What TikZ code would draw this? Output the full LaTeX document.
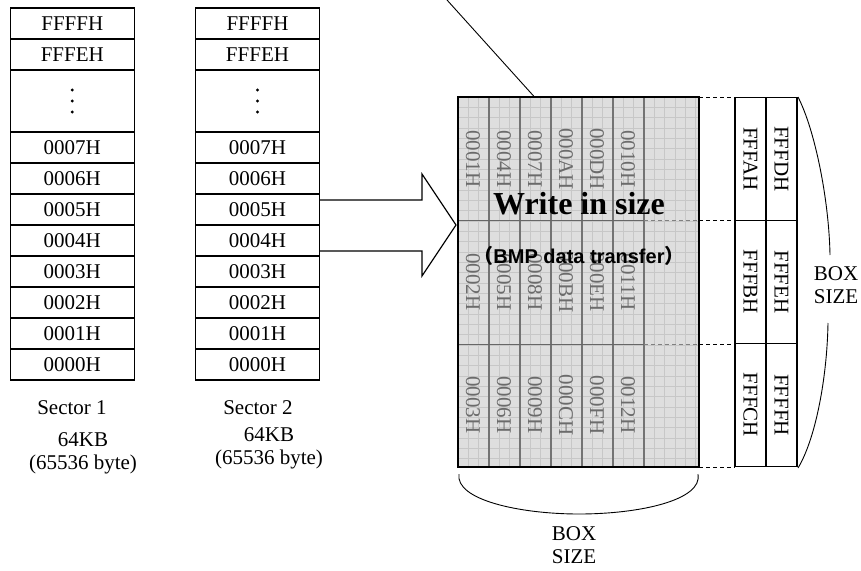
\documentclass[tikz,border=0pt]{standalone}
\usepackage{fontspec}
\setmainfont{Liberation Serif}
\newfontfamily\arialfont{Liberation Sans}
\newfontfamily\cjk{Noto Sans CJK SC}
\usetikzlibrary{positioning, calc}

\begin{document}
\begin{tikzpicture}[x=1pt,y=-1pt,node distance=0pt,
    font=\fontsize{21}{23}\selectfont]
  \tikzstyle{cell}=[draw,line width=1.2pt,minimum width=124pt,minimum height=31pt,inner sep=0pt,outer sep=0pt]
  \tikzstyle{rcell}=[draw,line width=1.2pt,rotate=-90,minimum width=123.5pt,minimum height=31pt,inner sep=0pt,outer sep=0pt]
  \tikzstyle{addr}=[rotate=-90,text=black!58,inner sep=0pt]
  \tikzstyle{gridline}=[black!22,line width=0.4pt]
  \tikzstyle{coldiv}=[black!55,line width=1.2pt]
  \tikzstyle{secdiv}=[black!60,line width=0.9pt]
  \tikzstyle{guide}=[line width=0.9pt,dash pattern=on 4pt off 3pt]
  \tikzstyle{caption}=[align=center,inner sep=0pt]

  \useasboundingbox (0,0) rectangle (861,570);

  % sector 1
  \node[cell]                    (a_ffff) at (72.3,23.5)     {FFFFH};
  \node[cell]                    (a_fffe) [below=of a_ffff] {FFFEH};
  \node[cell,minimum height=62pt] (a_dots) [below=of a_fffe] {};
  \node[cell]                    (a_0007) [below=of a_dots] {0007H};
  \node[cell]                    (a_0006) [below=of a_0007] {0006H};
  \node[cell]                    (a_0005) [below=of a_0006] {0005H};
  \node[cell]                    (a_0004) [below=of a_0005] {0004H};
  \node[cell]                    (a_0003) [below=of a_0004] {0003H};
  \node[cell]                    (a_0002) [below=of a_0003] {0002H};
  \node[cell]                    (a_0001) [below=of a_0002] {0001H};
  \node[cell]                    (a_0000) [below=of a_0001] {0000H};

  % sector 2
  \node[cell]                    (b_ffff) at (257.5,23.5)    {FFFFH};
  \node[cell]                    (b_fffe) [below=of b_ffff] {FFFEH};
  \node[cell,minimum height=62pt] (b_dots) [below=of b_fffe] {};
  \node[cell]                    (b_0007) [below=of b_dots] {0007H};
  \node[cell]                    (b_0006) [below=of b_0007] {0006H};
  \node[cell]                    (b_0005) [below=of b_0006] {0005H};
  \node[cell]                    (b_0004) [below=of b_0005] {0004H};
  \node[cell]                    (b_0003) [below=of b_0004] {0003H};
  \node[cell]                    (b_0002) [below=of b_0003] {0002H};
  \node[cell]                    (b_0001) [below=of b_0002] {0001H};
  \node[cell]                    (b_0000) [below=of b_0001] {0000H};

  \foreach \d in {a_dots,b_dots}
    \foreach \s in {-11,0,11}
      \fill ($(\d.center)+(0,\s)$) circle (1.6pt);

  \node[caption] (a_name) at (72,408)  {Sector 1};
  \node[caption] (a_size) at (83,453)  {64KB\\(65536 byte)};
  \node[caption] (b_name) at (258,408) {Sector 2};
  \node[caption] (b_size) at (269,448) {64KB\\(65536 byte)};

  % write area
  \fill[black!13] (458,97) rectangle (699,467);
  \foreach \i in {1,...,23}
    \draw[gridline] (458+\i*10.33,97) -- (458+\i*10.33,467);
  \foreach \j in {1,...,35}
    \draw[gridline] (458,97+\j*10.33) -- (699,97+\j*10.33);
  \foreach \k in {1,...,6}
    \draw[coldiv] (458+\k*31,97) -- (458+\k*31,467);
  \draw[secdiv] (458,220.7) -- (644,220.7);
  \draw[secdiv] (458,344) -- (644,344);
  \draw[guide,black!50] (644,220.7) -- (699,220.7);
  \draw[guide,black!50] (644,344) -- (699,344);
  \node[draw,line width=2.4pt,minimum width=241pt,minimum height=370pt,inner sep=0pt,outer sep=0pt]
    (area) at (578.5,282) {};

  \foreach \p/\q/\r [count=\k from 0] in
      {0001H/0002H/0003H, 0004H/0005H/0006H, 0007H/0008H/0009H,
       000AH/000BH/000CH, 000DH/000EH/000FH, 0010H/0011H/0012H} {
    \node[addr] (c\k_1) at (473+\k*31,159) {\p};
    \node[addr] (c\k_2) at (473+\k*31,282) {\q};
    \node[addr] (c\k_3) at (473+\k*31,405) {\r};
  }

  \node[font=\fontsize{32}{32}\selectfont\bfseries,inner sep=0pt] (title) at (579,204) {Write in size};
  \node[font=\fontsize{20}{20}\selectfont\arialfont\bfseries,inner sep=0pt] (subtitle) at (579,256)
    {{\cjk （}BMP data transfer{\cjk ）}};

  \draw[line width=0.9pt] (area.north) ++(-44,0) coordinate (lead) -- (447,0);

  % transfer arrow
  \draw[line width=1.2pt,line join=miter]
    ($(b_0005.north east)+(0,6)$) -- (422,200) -- (422,174)
    -- ($(area.west |- b_0004.north)+(-2,0)$)
    -- (422,276) -- (422,251) -- ($(b_0004.south east)+(0,-5)$);

  % box size (right)
  \node[rcell] (r_fffa) at (750.5,159) {FFFAH};
  \node[rcell] (r_fffb) at (750.5,282) {FFFBH};
  \node[rcell] (r_fffc) at (750.5,405) {FFFCH};
  \node[rcell] (r_fffd) at (781.5,159) {FFFDH};
  \node[rcell] (r_fffe) at (781.5,282) {FFFEH};
  \node[rcell] (r_ffff) at (781.5,405) {FFFFH};

  \draw[guide] (area.north east) -- (735,97);
  \draw[guide] (699,220.7) -- (735,220.7);
  \draw[guide] (699,344) -- (735,344);
  \draw[guide] (area.south east) -- (735,467);

  \node[caption] (box_r) at (836,285) {BOX\\SIZE};
  \draw[line width=0.9pt] (798,97) .. controls (815,130) and (829,200) .. (830,255);
  \draw[line width=0.9pt] (828,323) .. controls (827,380) and (815,440) .. (798,468);

  % box size (bottom)
  \draw[line width=0.9pt] (459,474) .. controls (455,500) and (520,514) .. (579,514)
    .. controls (640,514) and (703,500) .. (698,474);
  \node[caption] (box_b) at (574,545) {BOX\\SIZE};
\end{tikzpicture}
\end{document}
